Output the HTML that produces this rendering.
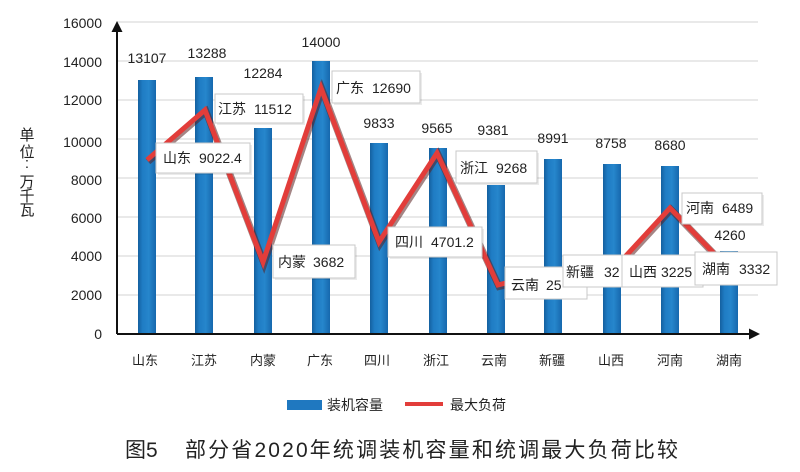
<!DOCTYPE html>
<html><head><meta charset="utf-8"><style>
html,body{margin:0;padding:0;background:#fff;}
svg{display:block;font-family:"Liberation Sans","Noto Sans CJK SC",sans-serif;}
</style></head><body>
<svg width="800" height="472" viewBox="0 0 800 472" xmlns="http://www.w3.org/2000/svg">
<defs>
<linearGradient id="bg" x1="0" x2="1" y1="0" y2="0">
<stop offset="0" stop-color="#14609f"/><stop offset="0.25" stop-color="#1f7cc4"/><stop offset="0.6" stop-color="#2686cc"/><stop offset="1" stop-color="#1668ad"/>
</linearGradient>
</defs>
<rect width="800" height="472" fill="#fff"/>
<g stroke="#dcdcdc" stroke-width="1.2">
<line x1="117" y1="22" x2="758" y2="22"/><line x1="117" y1="61" x2="758" y2="61"/>
<line x1="117" y1="100" x2="758" y2="100"/><line x1="117" y1="139" x2="758" y2="139"/>
<line x1="117" y1="178" x2="758" y2="178"/><line x1="117" y1="217" x2="758" y2="217"/>
<line x1="117" y1="256" x2="758" y2="256"/><line x1="117" y1="295" x2="758" y2="295"/>
</g>
<g font-size="14" fill="#222" text-anchor="end">
<text x="102" y="28">16000</text><text x="102" y="67">14000</text><text x="102" y="105">12000</text>
<text x="102" y="147">10000</text><text x="102" y="185">8000</text><text x="102" y="223">6000</text>
<text x="102" y="261">4000</text><text x="102" y="300">2000</text><text x="102" y="339">0</text>
</g>
<g font-size="15" fill="#222" text-anchor="middle">
<text x="27" y="140">单</text><text x="27" y="157">位</text><text x="27" y="168">:</text>
<text x="27" y="187">万</text><text x="27" y="201">千</text><text x="27" y="215">瓦</text>
</g>
<g fill="url(#bg)">
<rect x="138" y="80" width="18" height="254"/>
<rect x="195" y="77" width="18" height="257"/>
<rect x="254" y="128" width="18" height="206"/>
<rect x="312" y="61" width="18" height="273"/>
<rect x="370" y="143" width="18" height="191"/>
<rect x="429" y="148" width="18" height="186"/>
<rect x="487" y="185" width="18" height="149"/>
<rect x="544" y="159" width="18" height="175"/>
<rect x="603" y="164" width="18" height="170"/>
<rect x="661" y="166" width="18" height="168"/>
<rect x="720" y="251" width="18" height="83"/>
</g>
<g font-size="14" fill="#222" text-anchor="middle">
<text x="147" y="63">13107</text><text x="207" y="58">13288</text><text x="263" y="78">12284</text>
<text x="321" y="47">14000</text><text x="379" y="128">9833</text><text x="437" y="133">9565</text>
<text x="493" y="135">9381</text><text x="553" y="143">8991</text><text x="611" y="148">8758</text>
<text x="670" y="150">8680</text><text x="730" y="240">4260</text>
</g>
<polyline points="147,160 205,110 263,262 321,88 379,242 437,153 498,285 553,271 612,271 670,208 729,269" fill="none" stroke="#5a2020" stroke-width="7" stroke-linejoin="miter" stroke-opacity="0.55" transform="translate(1,1.5)"/>
<polyline points="147,160 205,110 263,262 321,88 379,242 437,153 498,285 553,271 612,271 670,208 729,269" fill="none" stroke="#e23d3a" stroke-width="5" stroke-linejoin="miter"/>
<g>
<g fill="#000" opacity="0.08">
<rect x="158" y="145" width="94" height="30"/><rect x="217" y="96" width="88" height="29"/>
<rect x="275" y="247" width="82" height="33"/><rect x="334" y="73" width="88" height="32"/>
<rect x="390" y="229" width="94" height="30"/><rect x="458" y="153" width="81" height="32"/>
<rect x="684" y="195" width="80" height="31"/>
</g>
<g fill="#fff" stroke="#c8c8c8" stroke-width="1">
<rect x="156" y="143" width="94" height="30"/>
<rect x="215" y="94" width="88" height="29"/>
<rect x="273" y="245" width="82" height="33"/>
<rect x="332" y="71" width="88" height="32"/>
<rect x="388" y="227" width="94" height="30"/>
<rect x="456" y="151" width="81" height="32"/>
<rect x="682" y="193" width="80" height="31"/>
<rect x="505" y="267" width="82" height="32"/>
</g>
<g font-size="14" fill="#222">
<text x="163" y="163">山东<tspan dx="8">9022.4</tspan></text>
<text x="218" y="114">江苏<tspan dx="8">11512</tspan></text>
<text x="278" y="267">内蒙<tspan dx="7">3682</tspan></text>
<text x="336" y="93">广东<tspan dx="8">12690</tspan></text>
<text x="395" y="247">四川<tspan dx="8">4701.2</tspan></text>
<text x="460" y="173">浙江<tspan dx="8">9268</tspan></text>
<text x="686" y="213">河南<tspan dx="8">6489</tspan></text>
<text x="511" y="290">云南<tspan dx="7">25</tspan></text>
</g>
<rect x="563" y="255" width="66" height="32" fill="#fff" stroke="#c8c8c8"/>
<text x="566" y="277" font-size="14" fill="#222">新疆<tspan dx="10">32</tspan></text>
<rect x="622" y="255" width="81" height="32" fill="#fff" stroke="#c8c8c8"/>
<text x="629" y="277" font-size="14" fill="#222">山西<tspan dx="4">3225</tspan></text>
<rect x="695" y="252" width="82" height="33" fill="#fff" stroke="#c8c8c8"/>
<text x="702" y="274" font-size="14" fill="#222">湖南<tspan dx="9">3332</tspan></text>
</g>
<line x1="117" y1="334" x2="750" y2="334" stroke="#111" stroke-width="2"/>
<polygon points="760,334 749,328.5 749,339.5" fill="#111"/>
<line x1="117" y1="334" x2="117" y2="30" stroke="#111" stroke-width="2"/>
<polygon points="117,21 111.5,32 122.5,32" fill="#111"/>
<g font-size="13" fill="#222" text-anchor="middle">
<text x="145" y="365">山东</text><text x="204" y="365">江苏</text><text x="263" y="365">内蒙</text>
<text x="320" y="365">广东</text><text x="377" y="365">四川</text><text x="436" y="365">浙江</text>
<text x="494" y="365">云南</text><text x="552" y="365">新疆</text><text x="611" y="365">山西</text>
<text x="670" y="365">河南</text><text x="729" y="365">湖南</text>
</g>
<rect x="287" y="400" width="35" height="10" fill="#1f78c0"/>
<text x="327" y="410" font-size="14" fill="#222">装机容量</text>
<line x1="405" y1="404" x2="443" y2="404" stroke="#e23d3a" stroke-width="4"/>
<text x="450" y="410" font-size="14" fill="#222">最大负荷</text>
<text x="125" y="457" font-size="21" fill="#222">图5</text>
<text x="185" y="457" font-size="21" fill="#222" textLength="493" lengthAdjust="spacing">部分省2020年统调装机容量和统调最大负荷比较</text>
</svg>
</body></html>
